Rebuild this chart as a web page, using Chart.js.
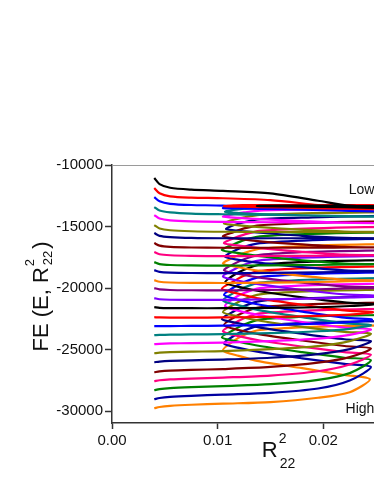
<!DOCTYPE html>
<html>
  <head>
    <script src="https://cdn.jsdelivr.net/npm/chart.js"></script>
    <style>
      body { margin: 0; overflow: hidden; background: #fff; }
      #fe { display: block; }
    </style>
  </head>
  <body>
    <canvas id="fe" width="440" height="484"></canvas>

    <script>
      // x positions shared by all curves (R^2_22)
      const x1 = [0.0040, 0.0045, 0.0055, 0.0075, 0.0105, 0.0150, 0.0195, 0.0225]; // forward branch
      const x2 = [0.0220, 0.0180, 0.0140, 0.0120];                                 // return branch
      const x3 = [0.0115, 0.0125, 0.0140, 0.0190, 0.0240, 0.0300];                 // upper branch

      // right turning point and left turning point of each curve
      const tipX = [0.030, 0.030, 0.030, 0.026, 0.026, 0.026, 0.026, 0.026, 0.026, 0.026, 0.026, 0.026, 0.026, 0.026,
                    0.0248, 0.0247, 0.0246, 0.0245, 0.0245, 0.0245, 0.0245, 0.0245, 0.0245, 0.0245, 0.0245, 0.0244];
      const leftX = [0.0137, 0.0106, 0.0105, 0.0107, 0.0105, 0.0106, 0.0108, 0.0105, 0.0106, 0.0104, 0.0107, 0.0105, 0.0106,
                     0.0105, 0.0107, 0.0104, 0.0106, 0.0105, 0.0107, 0.0105, 0.0104, 0.0106, 0.0105, 0.0104, 0.0106, 0.0105];

      // forward branch: values at x1, last one at tipX
      const branch1 = [
        [-11057, -11550, -11850, -12000, -12100, -12300, -12900, -13300, -13600],
        [-11870, -12300, -12550, -12650, -12700, -12850, -13250, -13450, -13650],
        [-12602, -12950, -13150, -13250, -13300, -13550, -13650, -13720, -13850],
        [-13415, -13700, -13850, -13950, -14000, -14050, -14100, -14150, -14200],
        [-14065, -14350, -14500, -14580, -14620, -14650, -14680, -14700, -14720],
        [-14878, -15150, -15300, -15380, -15420, -15430, -15440, -15450, -15450],
        [-15528, -15750, -15850, -15920, -15950, -15950, -15950, -15950, -15950],
        [-16341, -16550, -16650, -16700, -16720, -16720, -16710, -16700, -16700],
        [-17073, -17250, -17330, -17380, -17400, -17390, -17370, -17350, -17330],
        [-17886, -18050, -18120, -18150, -18170, -18150, -18120, -18080, -18050],
        [-18537, -18680, -18740, -18770, -18780, -18760, -18720, -18670, -18620],
        [-19350, -19480, -19540, -19570, -19580, -19550, -19500, -19440, -19380],
        [-20000, -20100, -20150, -20170, -20180, -20150, -20090, -20020, -19950],
        [-20813, -20900, -20940, -20950, -20950, -20900, -20830, -20750, -20650],
        [-21545, -21600, -21620, -21630, -21630, -21600, -21550, -21450, -21300],
        [-22358, -22380, -22390, -22390, -22380, -22340, -22250, -22150, -21950],
        [-23089, -23090, -23080, -23070, -23050, -23000, -22880, -22750, -22550],
        [-23821, -23800, -23780, -23760, -23730, -23650, -23500, -23300, -23000],
        [-24553, -24520, -24490, -24460, -24420, -24300, -24100, -23800, -23350],
        [-25284, -25240, -25200, -25160, -25110, -24950, -24700, -24300, -23700],
        [-26016, -25960, -25910, -25860, -25800, -25650, -25350, -24950, -24300],
        [-26829, -26760, -26700, -26640, -26570, -26400, -26050, -25600, -24900],
        [-27561, -27480, -27410, -27340, -27260, -27100, -26750, -26200, -25400],
        [-28293, -28200, -28120, -28040, -27950, -27800, -27450, -26900, -25850],
        [-29024, -28920, -28830, -28740, -28640, -28500, -28150, -27500, -26400],
        [-29756, -29650, -29560, -29470, -29380, -29250, -28900, -28450, -27400]
      ];

      // return branch: values at x2, last one at leftX
      const branch2 = [
        [-13420, -13380, -13340, null, -13330],
        [-13550, -13480, -13420, -13380, -13350],
        [-13700, -13620, -13560, -13530, -13500],
        [-14170, -14080, -13980, -13900, -13800],
        [-14680, -14550, -14400, -14300, -14200],
        [-15400, -15250, -15050, -14900, -14750],
        [-15920, -15750, -15500, -15350, -15200],
        [-16650, -16450, -16200, -16000, -15800],
        [-17280, -17050, -16750, -16550, -16350],
        [-18000, -17750, -17400, -17150, -16900],
        [-18550, -18300, -17950, -17700, -17450],
        [-19300, -19000, -18600, -18300, -18000],
        [-19850, -19550, -19150, -18850, -18550],
        [-20500, -20150, -19700, -19400, -19050],
        [-21150, -20750, -20250, -19900, -19550],
        [-21800, -21350, -20850, -20450, -20050],
        [-22400, -21900, -21350, -20950, -20550],
        [-22850, -22350, -21800, -21400, -21000],
        [-23200, -22750, -22200, -21850, -21450],
        [-23550, -23150, -22650, -22300, -21950],
        [-24150, -23700, -23200, -22850, -22500],
        [-24700, -24250, -23750, -23400, -23000],
        [-25200, -24750, -24250, -23900, -23500],
        [-25650, -25200, -24700, -24350, -24000],
        [-26150, -25700, -25200, -24850, -24500],
        [-27050, -26500, -25950, -25500, -25050]
      ];

      // upper branch: values at x3
      const branch3 = [
        [null, null, -13310, -13300, -13330, -13380],
        [-13280, -13260, -13250, -13250, -13260, -13280],
        [-13450, -13420, -13400, -13400, -13400, -13420],
        [-13650, -13550, -13450, -13400, -13380, -13350],
        [-14000, -13850, -13700, -13600, -13550, -13500],
        [-14450, -14250, -14050, -13900, -13850, -13800],
        [-14900, -14650, -14400, -14250, -14150, -14100],
        [-15450, -15150, -14900, -14700, -14600, -14550],
        [-15950, -15650, -15350, -15150, -15050, -15000],
        [-16450, -16100, -15800, -15600, -15500, -15450],
        [-17000, -16650, -16350, -16100, -16000, -15950],
        [-17500, -17150, -16800, -16550, -16450, -16400],
        [-18050, -17650, -17300, -17050, -16950, -16900],
        [-18500, -18100, -17750, -17500, -17400, -17350],
        [-18950, -18500, -18100, -17850, -17750, -17700],
        [-19450, -19000, -18600, -18350, -18250, -18200],
        [-19950, -19500, -19100, -18850, -18750, -18700],
        [-20400, -19950, -19550, -19300, -19200, -19150],
        [-20850, -20400, -20000, -19750, -19650, -19600],
        [-21350, -20900, -20500, -20250, -20150, -20100],
        [-21900, -21450, -21050, -20800, -20700, -20650],
        [-22400, -21950, -21550, -21300, -21200, -21150],
        [-22900, -22450, -22050, -21800, -21700, -21650],
        [-23400, -22950, -22550, -22300, -22200, -22150],
        [-23900, -23450, -23050, -22800, -22700, -22650],
        [-24300, -23800, -23400, -23150, -23050, -23000]
      ];

      const colors = ['#000000', '#ff0000', '#0000ff', '#008080', '#ff00ff', '#808000', '#000080', '#800000',
                      '#ff0080', '#008000', '#0000a0', '#ff8000', '#800080', '#8000ff', '#000000', '#ff0000',
                      '#0000ff', '#008080', '#ff00ff', '#808000', '#000080', '#800000', '#ff0080', '#008000',
                      '#0000a0', '#ff8000'];

      const xTicks = [0.00, 0.01, 0.02];
      const yTicks = [-30000, -25000, -20000, -15000, -10000];

      function curvePoints(k) {
        const pts = [];
        x1.forEach((x, j) => pts.push({ x: x, y: branch1[k][j] }));
        pts.push({ x: tipX[k], y: branch1[k][8] });
        x2.forEach((x, j) => { if (branch2[k][j] !== null) pts.push({ x: x, y: branch2[k][j] }); });
        pts.push({ x: leftX[k], y: branch2[k][4] });
        x3.forEach((x, j) => { if (branch3[k][j] !== null) pts.push({ x: x, y: branch3[k][j] }); });
        return pts;
      }

      const datasets = colors.map((c, k) => ({
        data: curvePoints(k),
        borderColor: c,
        borderWidth: 2.2,
        showLine: true,
        pointRadius: 0,
        tension: 0.28,
        fill: false
      }));

      // axis titles with stacked super/subscript, frame line, Low/High labels
      const decor = {
        id: 'decor',
        afterDraw(chart) {
          const ctx = chart.ctx;
          const a = chart.chartArea;
          const xs = chart.scales.x, ys = chart.scales.y;
          ctx.save();
          ctx.strokeStyle = '#9a9a9a';
          ctx.lineWidth = 1;
          ctx.beginPath();
          ctx.moveTo(a.left, a.top + 0.5);
          ctx.lineTo(a.right, a.top + 0.5);
          ctx.stroke();

          ctx.fillStyle = '#111';
          ctx.textBaseline = 'alphabetic';
          ctx.font = '14px "Liberation Sans", Arial, sans-serif';
          ctx.fillText('Low', xs.getPixelForValue(0.0224), ys.getPixelForValue(-12380));
          ctx.fillText('High', xs.getPixelForValue(0.0221), ys.getPixelForValue(-30140));

          function sciLabel(main, sup, sub, tail, big, small, supDy, subDy) {
            ctx.font = big + 'px "Liberation Sans", Arial, sans-serif';
            const w1 = ctx.measureText(main).width;
            const w3 = ctx.measureText(tail).width;
            ctx.font = small + 'px "Liberation Sans", Arial, sans-serif';
            const w2 = Math.max(ctx.measureText(sup).width, ctx.measureText(sub).width) + 1;
            let x = -(w1 + w2 + w3) / 2;
            ctx.font = big + 'px "Liberation Sans", Arial, sans-serif';
            ctx.fillText(main, x, 0);
            x += w1 + 1;
            ctx.font = small + 'px "Liberation Sans", Arial, sans-serif';
            ctx.fillText(sup, x, supDy);
            ctx.fillText(sub, x + 1, subDy);
            x += w2 + 2;
            ctx.font = big + 'px "Liberation Sans", Arial, sans-serif';
            ctx.fillText(tail, x, 0);
          }

          ctx.save();
          ctx.translate(48, 298);
          ctx.rotate(-Math.PI / 2);
          sciLabel('FE (E, R', '2', '22', ')', 22, 13, -14, 4);
          ctx.restore();

          ctx.save();
          ctx.translate(278, 457);
          sciLabel('R', '2', '22', '', 22, 14, -14, 11);
          ctx.restore();
          ctx.restore();
        }
      };

      new Chart(document.getElementById('fe').getContext('2d'), {
        type: 'scatter',
        data: { datasets: datasets },
        options: {
          responsive: false,
          animation: false,
          layout: { padding: { top: 165, left: 0, right: 11, bottom: 0 } },
          plugins: { legend: { display: false }, tooltip: { enabled: false } },
          scales: {
            x: {
              type: 'linear',
              min: 0,
              max: 0.03,
              border: { color: '#333', width: 1.5 },
              grid: { drawOnChartArea: false, color: '#333', tickLength: 6, tickWidth: 1.5 },
              ticks: {
                color: '#111',
                font: { size: 15, family: '"Liberation Sans", Arial, sans-serif' },
                padding: 3,
                callback: v => Number(v).toFixed(2)
              },
              afterBuildTicks: s => { s.ticks = xTicks.map(v => ({ value: v })); },
              afterFit: s => { s.height = 61; }
            },
            y: {
              type: 'linear',
              min: -30950,
              max: -10000,
              border: { color: '#333', width: 1.5 },
              grid: { drawOnChartArea: false, color: '#333', tickLength: 7, tickWidth: 1.5 },
              ticks: {
                color: '#111',
                font: { size: 15, family: '"Liberation Sans", Arial, sans-serif' },
                padding: 2,
                callback: v => String(v)
              },
              afterBuildTicks: s => { s.ticks = yTicks.map(v => ({ value: v })); },
              afterFit: s => { s.width = 112; }
            }
          }
        },
        plugins: [decor]
      });
    </script>
  </body>
</html>
